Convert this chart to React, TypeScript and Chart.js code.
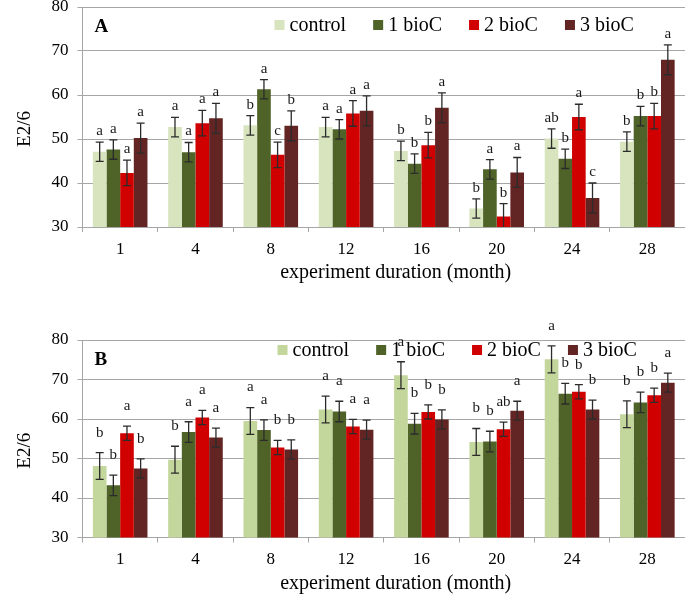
import React, { useEffect, useRef } from 'react';
import { Chart, registerables } from 'chart.js';

Chart.register(...registerables);

// ---------- data ----------
const months = ['1', '4', '8', '12', '16', '20', '24', '28'];
const seriesNames = ['control', '1 bioC', '2 bioC', '3 bioC'];
const yMin = 30;
const yMax = 80;
const yStep = 10;

// Panel A
const aControl = [47.1, 52.7, 53.1, 52.7, 47.3, 34.2, 50.1, 49.4];
const aBio1 = [47.6, 47.0, 61.3, 52.2, 44.4, 43.1, 45.5, 55.2];
const aBio2 = [42.3, 53.6, 46.4, 55.8, 48.6, 32.4, 55.0, 55.2];
const aBio3 = [50.2, 54.7, 53.0, 56.4, 57.1, 42.4, 36.6, 68.0];
const aErrControl = [2.2, 2.2, 2.2, 2.2, 2.2, 2.2, 2.2, 2.2];
const aErrBio1 = [2.2, 2.2, 2.2, 2.2, 2.2, 2.2, 2.2, 2.2];
const aErrBio2 = [2.9, 2.9, 2.9, 2.9, 2.9, 2.9, 2.9, 2.9];
const aErrBio3 = [3.4, 3.4, 3.4, 3.4, 3.4, 3.4, 3.4, 3.4];
const aLetControl = ['a', 'a', 'b', 'a', 'b', 'b', 'ab', 'b'];
const aLetBio1 = ['a', 'a', 'a', 'a', 'b', 'a', 'b', 'b'];
const aLetBio2 = ['a', 'a', 'c', 'a', 'b', 'b', 'a', 'b'];
const aLetBio3 = ['a', 'a', 'b', 'a', 'a', 'a', 'c', 'a'];

// Panel B
const bControl = [48.1, 49.7, 59.5, 62.4, 71.1, 54.2, 75.1, 61.2];
const bBio1 = [43.2, 56.7, 57.2, 61.9, 58.8, 54.3, 66.4, 64.2];
const bBio2 = [56.4, 60.4, 52.8, 58.1, 61.8, 57.4, 66.9, 66.0];
const bBio3 = [47.5, 55.3, 52.3, 57.3, 59.9, 62.1, 62.4, 69.2];
const bErrControl = [3.4, 3.4, 3.4, 3.4, 3.4, 3.4, 3.4, 3.4];
const bErrBio1 = [2.6, 2.6, 2.6, 2.6, 2.6, 2.6, 2.6, 2.6];
const bErrBio2 = [1.8, 1.8, 1.8, 1.8, 1.8, 1.8, 1.8, 1.8];
const bErrBio3 = [2.4, 2.4, 2.4, 2.4, 2.4, 2.4, 2.4, 2.4];
const bLetControl = ['b', 'b', 'a', 'a', 'a', 'b', 'a', 'b'];
const bLetBio1 = ['b', 'a', 'a', 'a', 'b', 'b', 'b', 'b'];
const bLetBio2 = ['a', 'a', 'b', 'a', 'b', 'ab', 'b', 'b'];
const bLetBio3 = ['b', 'a', 'b', 'a', 'b', 'a', 'b', 'a'];

const xTitle = 'experiment duration (month)';
const yTitle = 'E2/6';

// ---------- styles ----------
const SERIF = "'Liberation Serif', 'Times New Roman', serif";
const GRID = '#A6A6A6';
const colorsA = ['#D7E4BD', '#4F6228', '#D00000', '#632523'];
const colorsB = ['#C3D69B', '#4F6228', '#D00000', '#632523'];

type Panel = {
  name: string;
  values: number[][];
  errs: number[][];
  letters: string[][];
  colors: string[];
  padTop: number;
  xAxisHeight: number;
  legendDx: number;
  legendDy: number;
  letterLift: number;
};

const panels: Panel[] = [
  {
    name: 'A',
    values: [aControl, aBio1, aBio2, aBio3],
    errs: [aErrControl, aErrBio1, aErrBio2, aErrBio3],
    letters: [aLetControl, aLetBio1, aLetBio2, aLetBio3],
    colors: colorsA,
    padTop: 7,
    xAxisHeight: 73,
    legendDx: 192,
    legendDy: 18,
    letterLift: 11,
  },
  {
    name: 'B',
    values: [bControl, bBio1, bBio2, bBio3],
    errs: [bErrControl, bErrBio1, bErrBio2, bErrBio3],
    letters: [bLetControl, bLetBio1, bLetBio2, bLetBio3],
    colors: colorsB,
    padTop: 40,
    xAxisHeight: 62.5,
    legendDx: 195,
    legendDy: 10,
    letterLift: 20,
  },
];

function makeDecor(p: Panel) {
  return {
    id: 'decor' + p.name,
    afterDatasetsDraw(chart: any) {
      const ctx = chart.ctx as CanvasRenderingContext2D;
      const ys = chart.scales.y;
      const area = chart.chartArea;
      ctx.save();
      ctx.beginPath();
      ctx.rect(area.left, 0, area.right - area.left, area.bottom);
      ctx.clip();
      p.values.forEach((vals, d) => {
        const meta = chart.getDatasetMeta(d);
        meta.data.forEach((el: any, i: number) => {
          const v = vals[i];
          const e = p.errs[d][i];
          const x = el.x;
          const yHi = ys.getPixelForValue(v + e);
          const yLo = ys.getPixelForValue(v - e);
          ctx.strokeStyle = '#2b2b2b';
          ctx.lineWidth = 1.3;
          ctx.beginPath();
          ctx.moveTo(x, yHi);
          ctx.lineTo(x, yLo);
          ctx.moveTo(x - 4, yHi);
          ctx.lineTo(x + 4, yHi);
          ctx.moveTo(x - 4, yLo);
          ctx.lineTo(x + 4, yLo);
          ctx.stroke();
        });
      });
      ctx.restore();

      ctx.save();
      ctx.fillStyle = '#1a1a1a';
      ctx.font = `15px ${SERIF}`;
      ctx.textAlign = 'center';
      ctx.textBaseline = 'middle';
      p.values.forEach((vals, d) => {
        const meta = chart.getDatasetMeta(d);
        meta.data.forEach((el: any, i: number) => {
          const yHi = ys.getPixelForValue(vals[i] + p.errs[d][i]);
          ctx.fillText(p.letters[d][i], el.x, yHi - p.letterLift);
        });
      });
      ctx.restore();
    },
    afterDraw(chart: any) {
      const ctx = chart.ctx as CanvasRenderingContext2D;
      const area = chart.chartArea;
      ctx.save();
      // legend
      ctx.font = `20px ${SERIF}`;
      ctx.textBaseline = 'middle';
      ctx.textAlign = 'left';
      let x = area.left + p.legendDx;
      const yc = area.top + p.legendDy;
      seriesNames.forEach((nm, d) => {
        ctx.fillStyle = p.colors[d];
        ctx.fillRect(x, yc - 5, 10, 10);
        ctx.fillStyle = '#000';
        ctx.fillText(nm, x + 15, yc + 1);
        x += 15 + ctx.measureText(nm).width + 27;
      });
      // panel letter
      ctx.font = `bold 19px ${SERIF}`;
      ctx.fillText(p.name, area.left + 12, area.top + 20);
      // x title
      ctx.font = `20px ${SERIF}`;
      ctx.textAlign = 'center';
      ctx.fillText(xTitle, (area.left + area.right) / 2 + 12, area.bottom + 46);
      // y title
      ctx.font = `19px ${SERIF}`;
      ctx.translate(25, (area.top + area.bottom) / 2 + 12);
      ctx.rotate(-Math.PI / 2);
      ctx.fillText(yTitle, 0, 0);
      ctx.restore();
    },
  };
}

function PanelChart({ p }: { p: Panel }) {
  const ref = useRef<HTMLCanvasElement | null>(null);
  useEffect(() => {
    if (!ref.current) return;
    const chart = new Chart(ref.current, {
      type: 'bar',
      data: {
        labels: months,
        datasets: p.values.map((vals, d) => ({
          label: seriesNames[d],
          data: vals,
          backgroundColor: p.colors[d],
          borderWidth: 0,
          categoryPercentage: 0.725,
          barPercentage: 1.0,
        })),
      },
      options: {
        responsive: false,
        animation: false,
        devicePixelRatio: 1,
        layout: { padding: { top: p.padTop, left: 0, right: 0, bottom: 0 } },
        plugins: { legend: { display: false }, tooltip: { enabled: false } },
        scales: {
          x: {
            grid: { offset: true, drawOnChartArea: false, drawTicks: true, tickLength: 5, color: GRID },
            border: { display: true, color: GRID },
            ticks: { font: { family: SERIF, size: 17 }, color: '#000', padding: 7 },
            afterFit: (s: any) => {
              s.height = p.xAxisHeight;
              s.paddingLeft = 0;
              s.paddingRight = 0;
            },
          },
          y: {
            min: yMin,
            max: yMax,
            ticks: { stepSize: yStep, font: { family: SERIF, size: 17 }, color: '#000', padding: 9 },
            grid: { color: GRID, tickLength: 5 },
            border: { display: true, color: GRID },
            afterFit: (s: any) => {
              s.width = 82.5;
              s.paddingTop = 0;
              s.paddingBottom = 0;
            },
          },
        },
      } as any,
      plugins: [makeDecor(p)],
    });
    return () => chart.destroy();
  }, [p]);
  return <canvas ref={ref} width={685} height={300} style={{ display: 'block', width: 685, height: 300 }} />;
}

export default function App() {
  return (
    <div style={{ position: 'absolute', left: 0, top: 0, width: 685, height: 600, background: '#fff' }}>
      {panels.map((p) => (
        <PanelChart key={p.name} p={p} />
      ))}
    </div>
  );
}
